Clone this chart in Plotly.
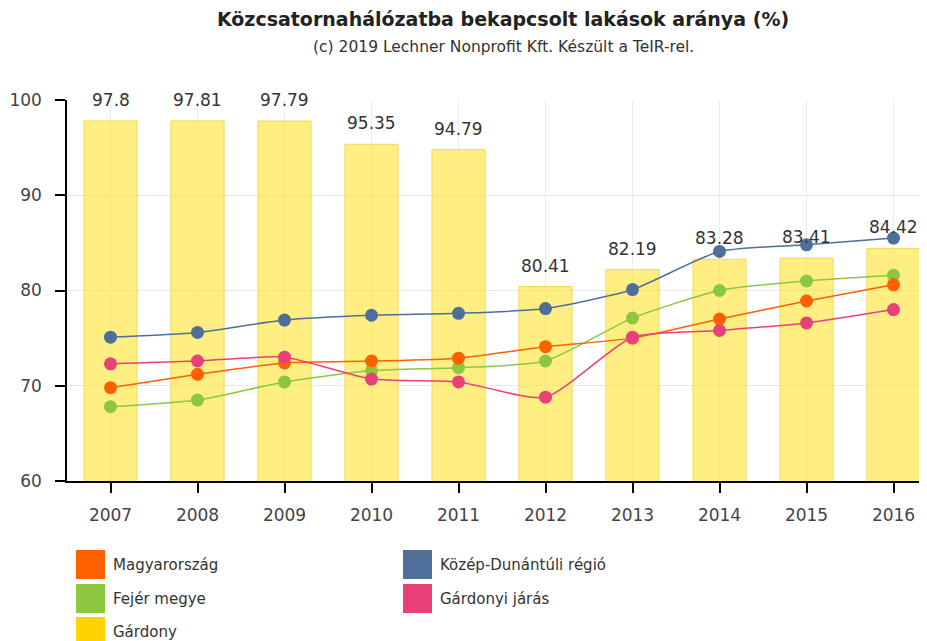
import plotly.graph_objects as go

years = ["2007", "2008", "2009", "2010", "2011", "2012", "2013", "2014", "2015", "2016"]
gardony = [97.8, 97.81, 97.79, 95.35, 94.79, 80.41, 82.19, 83.28, 83.41, 84.42]
kozep_dunantul = [75.1, 75.6, 76.9, 77.4, 77.6, 78.1, 80.1, 84.1, 84.8, 85.5]
magyarorszag = [69.8, 71.2, 72.4, 72.6, 72.9, 74.1, 75.0, 77.0, 78.9, 80.6]
fejer = [67.8, 68.5, 70.4, 71.6, 71.9, 72.6, 77.1, 80.0, 81.0, 81.6]
gardonyi_jaras = [72.3, 72.6, 73.0, 70.7, 70.4, 68.8, 75.1, 75.8, 76.6, 78.0]

names = ["Magyarország", "Közép-Dunántúli régió", "Fejér megye", "Gárdonyi járás", "Gárdony"]
colors = {
    "Magyarország": "#FF6000",
    "Közép-Dunántúli régió": "#4F6E9A",
    "Fejér megye": "#8DC63F",
    "Gárdonyi járás": "#E8417A",
    "Gárdony": "#FFD200",
}

OFF = 8  # page body margin
W, H = 927 - OFF, 641 - OFF
ML, MR, MT = 67 - OFF, 0, 100 - OFF
BOTTOM = 481 - OFF
MB = H - BOTTOM
PW = W - ML - MR
PH = H - MT - MB

fig = go.Figure()

fig.add_trace(go.Bar(
    x=years, y=gardony, name="Gárdony", width=0.61,
    marker=dict(color="rgba(255,228,60,0.64)", line=dict(color="#F3D84C", width=1)),
    showlegend=False, hoverinfo="x+y",
))

for nm, vals in [("Közép-Dunántúli régió", kozep_dunantul), ("Fejér megye", fejer),
                 ("Magyarország", magyarorszag), ("Gárdonyi járás", gardonyi_jaras)]:
    fig.add_trace(go.Scatter(
        x=years, y=vals, name=nm, mode="lines+markers",
        line=dict(color=colors[nm], width=1.5, shape="spline", smoothing=0.6),
        marker=dict(color=colors[nm], size=13),
        showlegend=False,
    ))

annotations = []
for i, v in enumerate(gardony):
    annotations.append(dict(
        x=i, y=v, xref="x", yref="y", text=f"{v:g}", showarrow=False,
        yshift=21, yanchor="middle", font=dict(size=17, color="#333333", family="DejaVu Sans"),
    ))

def px2x(px):
    return (px - OFF - ML) / PW
def py2y(py):
    return (BOTTOM - (py - OFF)) / PH

annotations.append(dict(
    x=px2x(503), xref="paper", y=py2y(47), yref="paper", yanchor="middle", xanchor="center",
    text="(c) 2019 Lechner Nonprofit Kft. Készült a TeIR-rel.", showarrow=False,
    font=dict(size=15.5, color="#333333", family="DejaVu Sans"),
))

# manual legend
shapes = []
legend_items = [
    ("Magyarország", 76, 550),
    ("Fejér megye", 76, 584),
    ("Gárdony", 76, 617),
    ("Közép-Dunántúli régió", 403, 550),
    ("Gárdonyi járás", 403, 584),
]
for nm, sx, sy in legend_items:
    shapes.append(dict(
        type="rect", xref="paper", yref="paper",
        x0=px2x(sx), x1=px2x(sx + 29), y0=py2y(sy + 29), y1=py2y(sy),
        fillcolor=colors[nm], line=dict(width=0),
    ))
    annotations.append(dict(
        x=px2x(sx + 35), y=py2y(sy + 15), xref="paper", yref="paper",
        xanchor="left", yanchor="middle", text=nm, showarrow=False,
        font=dict(size=15, color="#333333", family="DejaVu Sans"),
    ))

fig.update_layout(
    width=W, height=H,
    margin=dict(l=ML, r=MR, t=MT, b=MB),
    paper_bgcolor="white", plot_bgcolor="white",
    title=dict(
        text="<b>Közcsatornahálózatba bekapcsolt lakások aránya (%)</b>",
        x=px2x(503), xref="paper", xanchor="center",
        y=1 - (19 - OFF) / H, yref="container", yanchor="middle",
        font=dict(size=19, color="#222222", family="DejaVu Sans"),
    ),
    font=dict(family="DejaVu Sans", color="#333333"),
    showlegend=False,
    annotations=annotations,
    shapes=shapes,
)

fig.update_xaxes(
    type="category", range=[-0.5, -0.5 + PW / 87.0],
    showline=True, linecolor="#000000", linewidth=1.5,
    ticks="outside", ticklen=10, tickcolor="#000000", tickwidth=1.5,
    showgrid=True, gridcolor="#ECECEC", gridwidth=1,
    tickfont=dict(size=17, color="#444444"), ticklabelstandoff=8,
    zeroline=False,
)
fig.update_yaxes(
    range=[60, 100], dtick=10, tick0=60,
    showline=True, linecolor="#000000", linewidth=1.5,
    ticks="outside", ticklen=10, tickcolor="#000000", tickwidth=1.5,
    showgrid=True, gridcolor="#E6E6E6", gridwidth=1,
    tickfont=dict(size=17, color="#444444"), ticklabelstandoff=10,
    zeroline=False,
)

fig.write_html("out.html")
